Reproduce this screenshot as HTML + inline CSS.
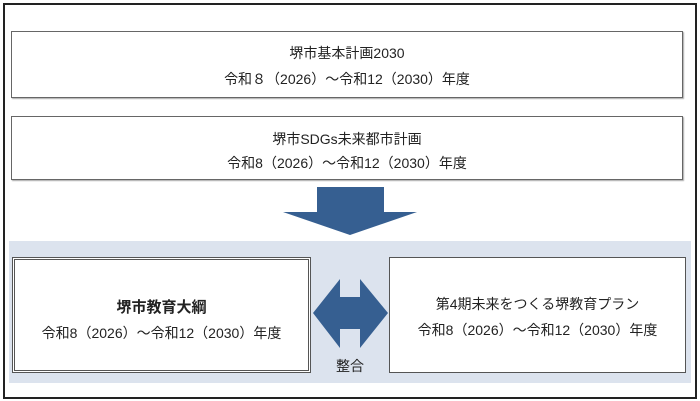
<html><head><style>
body{margin:0;width:700px;height:401px;background:#fff;position:relative;font-family:"Liberation Sans","Noto Sans CJK JP",sans-serif;color:#222;overflow:hidden}
.a{position:absolute;box-sizing:border-box}
.t{position:absolute;left:0;right:0;text-align:center;font-size:14px;line-height:16px}
</style></head><body>
<div class="a" style="left:3px;top:3px;width:694px;height:396px;border:2px solid #222"></div>
<div class="a" style="left:11px;top:31px;width:672px;height:67px;border:1px solid #666;box-shadow:1px 1px 1px #aaa">
<div class="t" style="top:13px">堺市基本計画2030</div><div class="t" style="top:39px">令和８（2026）～令和12（2030）年度</div></div>
<div class="a" style="left:11px;top:116px;width:672px;height:64px;border:1px solid #666;box-shadow:1px 1px 1px #aaa">
<div class="t" style="top:14px">堺市SDGs未来都市計画</div><div class="t" style="top:38px">令和8（2026）～令和12（2030）年度</div></div>
<svg class="a" style="left:0;top:0" width="700" height="401">
<rect x="9" y="241" width="682" height="142" fill="#dce3ee"/>
<polygon points="317,187 384,187 384,212 417,212 350,235 283,212 317,212" fill="#365f91"/>
<polygon points="313,313 340,279 340,297 360,297 360,279 388,313 360,348 360,329 340,329 340,348" fill="#365f91"/>
</svg>
<div class="a" style="left:12px;top:257px;width:299px;height:116px;border:3px double #555;background:#fff">
<div class="t" style="top:40px;font-weight:bold;font-size:15px">堺市教育大綱</div><div class="t" style="top:65px">令和8（2026）～令和12（2030）年度</div></div>
<div class="a" style="left:389px;top:257px;width:297px;height:116px;border:1px solid #555;background:#fff">
<div class="t" style="top:38px">第4期未来をつくる堺教育プラン</div><div class="t" style="top:64px">令和8（2026）～令和12（2030）年度</div></div>
<div class="a" style="left:330px;top:356px;width:40px;text-align:center;font-size:14px">整合</div>
</body></html>
